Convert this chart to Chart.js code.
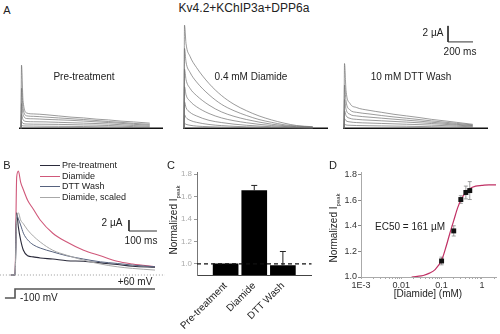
<!DOCTYPE html>
<html>
<head>
<meta charset="utf-8">
<script src="https://cdn.jsdelivr.net/npm/chart.js@4"></script>
<style>
body { margin: 0; background: #fff; font-family: "Liberation Sans", Arial, sans-serif; color: #222; }
#fig { position: relative; width: 500px; height: 334px; overflow: hidden; }
canvas { position: absolute; }
.t { position: absolute; white-space: nowrap; line-height: 1; }
.c { transform: translate(-50%, -50%); }
.l { transform: translate(0, -50%); }
.r { transform: translate(-50%, -50%) rotate(-90deg); }
.leg { position: absolute; left: 40px; width: 20px; height: 0; }
</style>
</head>
<body>
<div id="fig">
  <canvas id="aPre" width="150" height="110" style="left:15px;top:20px"></canvas>
  <canvas id="aDia" width="150" height="110" style="left:180px;top:20px"></canvas>
  <canvas id="aDtt" width="150" height="110" style="left:340px;top:20px"></canvas>
  <canvas id="bTr" width="165" height="145" style="left:0px;top:165px"></canvas>
  <canvas id="cBar" width="165" height="169" style="left:160px;top:165px"></canvas>
  <canvas id="dDose" width="180" height="140" style="left:320px;top:160px"></canvas>

  <div class="t c" style="left:7px;top:10px;font-size:11px">A</div>
  <div class="t c" style="left:244px;top:8px;font-size:12px">Kv4.2+KChIP3a+DPP6a</div>
  <div class="t c" style="left:84px;top:77px;font-size:10px">Pre-treatment</div>
  <div class="t c" style="left:251px;top:77px;font-size:10px">0.4 mM Diamide</div>
  <div class="t c" style="left:411px;top:77px;font-size:10px">10 mM DTT Wash</div>
  <div class="t c" style="left:433px;top:33px;font-size:10px">2 µA</div>
  <div class="t c" style="left:460px;top:52px;font-size:10px">200 ms</div>

  <div class="t c" style="left:7px;top:165px;font-size:11px">B</div>
  <div class="leg" style="top:165px;border-top:1px solid #2b2b3b"></div>
  <div class="leg" style="top:176px;border-top:1px solid #d0587a"></div>
  <div class="leg" style="top:186px;border-top:1px solid #56627e"></div>
  <div class="leg" style="top:197px;border-top:1px solid #a8a8a8"></div>
  <div class="t l" style="left:62px;top:165px;font-size:9px">Pre-treatment</div>
  <div class="t l" style="left:62px;top:176px;font-size:9px">Diamide</div>
  <div class="t l" style="left:62px;top:186px;font-size:9px">DTT Wash</div>
  <div class="t l" style="left:62px;top:197px;font-size:9px">Diamide, scaled</div>
  <div class="t c" style="left:112px;top:223px;font-size:10px">2 µA</div>
  <div class="t c" style="left:141px;top:241px;font-size:10px">100 ms</div>
  <div class="t c" style="left:135px;top:282px;font-size:10px">+60 mV</div>
  <div class="t l" style="left:20px;top:298px;font-size:10px">-100 mV</div>

  <div class="t c" style="left:171px;top:165px;font-size:11px">C</div>
  <div class="t r" style="left:175px;top:220px;font-size:10px">Normalized I<sub style="font-size:6px">peak</sub></div>

  <div class="t c" style="left:333px;top:165px;font-size:11px">D</div>
  <div class="t r" style="left:335px;top:228px;font-size:10px">Normalized I<sub style="font-size:6px">peak</sub></div>
  <div class="t c" style="left:410px;top:227px;font-size:10px">EC50 = 161 µM</div>
  <div class="t c" style="left:428px;top:294px;font-size:10px">[Diamide] (mM)</div>
</div>

<script>
// A: current families, time in ms, current in µA
const tA = [0, 4, 16, 48, 100, 200, 300, 400, 500, 600, 700, 800, 900, 1030];
const preTraces = [
    [0, 7.9, 3.5, 1.9, 1.8, 1.7, 1.55, 1.4, 1.3, 1.15, 1.05, 0.9, 0.8, 0.65],
    [0, 5.0, 2.5, 1.55, 1.5, 1.4, 1.3, 1.2, 1.1, 0.98, 0.85, 0.75, 0.62, 0.5],
    [0, 3.1, 1.75, 1.22, 1.19, 1.12, 1.06, 1.0, 0.91, 0.81, 0.72, 0.62, 0.5, 0.38],
    [0, 1.75, 1.06, 0.85, 0.82, 0.8, 0.75, 0.7, 0.65, 0.6, 0.54, 0.45, 0.35, 0.25],
    [0, 0.88, 0.6, 0.54, 0.52, 0.51, 0.49, 0.46, 0.42, 0.4, 0.35, 0.29, 0.21, 0.13],
    [0, 0.38, 0.3, 0.29, 0.28, 0.26, 0.25, 0.24, 0.22, 0.2, 0.18, 0.15, 0.11, 0.08]
];
const diaTraces = [
    [0, 12.9, 10.6, 9.0, 7.6, 5.6, 4.1, 3.0, 2.2, 1.55, 1.05, 0.65, 0.35, 0.2],
    [0, 10.0, 8.3, 7.0, 5.8, 4.2, 3.0, 2.2, 1.6, 1.1, 0.75, 0.45, 0.28, 0.15],
    [0, 7.4, 6.1, 5.0, 4.1, 2.9, 2.05, 1.5, 1.1, 0.78, 0.52, 0.33, 0.2, 0.12],
    [0, 5.2, 4.2, 3.4, 2.7, 1.85, 1.3, 0.95, 0.7, 0.5, 0.35, 0.23, 0.15, 0.1],
    [0, 3.3, 2.6, 2.0, 1.55, 1.0, 0.72, 0.52, 0.38, 0.28, 0.2, 0.15, 0.11, 0.08],
    [0, 1.7, 1.35, 1.0, 0.75, 0.48, 0.34, 0.25, 0.19, 0.15, 0.12, 0.1, 0.08, 0.06],
    [0, 0.6, 0.5, 0.38, 0.28, 0.2, 0.15, 0.12, 0.1, 0.08, 0.07, 0.06, 0.05, 0.04]
];
const dttTraces = [
    [0, 8.1, 4.75, 3.1, 2.6, 2.25, 2.0, 1.75, 1.55, 1.35, 1.12, 0.94, 0.75, 0.5],
    [0, 5.4, 3.4, 2.3, 2.0, 1.8, 1.6, 1.42, 1.26, 1.1, 0.93, 0.78, 0.62, 0.42],
    [0, 3.6, 2.4, 1.75, 1.55, 1.4, 1.27, 1.14, 1.02, 0.9, 0.76, 0.64, 0.5, 0.34],
    [0, 2.2, 1.6, 1.25, 1.12, 1.02, 0.94, 0.86, 0.78, 0.69, 0.6, 0.5, 0.4, 0.27],
    [0, 1.2, 0.95, 0.8, 0.72, 0.66, 0.61, 0.56, 0.51, 0.46, 0.4, 0.34, 0.27, 0.18],
    [0, 0.5, 0.42, 0.38, 0.35, 0.32, 0.3, 0.28, 0.26, 0.23, 0.2, 0.17, 0.13, 0.09]
];

// B: overlay at +60 mV
const tB = [-15, 0, 6, 12, 20, 30, 45, 65, 90, 135, 185, 245, 305, 365, 420, 500];
const bPre = [0, 0, 11.3, 8.7, 6.4, 4.5, 3.5, 3.3, 3.1, 2.9, 2.6, 2.5, 2.2, 1.9, 1.6, 1.4];
const bDia = [0, 0, 17.8, 18.9, 16.9, 15.5, 13.6, 12.0, 10.0, 7.6, 6.0, 4.5, 3.5, 2.5, 2.0, 1.5];
const bDtt = [0, 0, 10.9, 10.2, 9.1, 7.6, 6.4, 5.5, 4.9, 4.2, 3.5, 2.9, 2.4, 2.1, 1.8, 1.5];
const bScaled = [0, 0, 10.5, 11.3, 10.0, 9.3, 8.2, 7.1, 6.0, 4.5, 3.6, 2.7, 2.0, 1.5, 1.2, 0.9];
const protoT = [-36, 0, 0, 500];
const protoV = [-100, -100, 60, 60];

// C: normalized peak current
const condLabels = ['Pre-treatment', 'Diamide', 'DTT Wash'];
const peakMean = [1.0, 1.655, 0.985];
const peakErr = [0, 0.045, 0.125];
const ticksC = [1.0, 1.2, 1.4, 1.6, 1.8];

// D: dose response
const doseX = [0.1, 0.2, 0.3, 0.4, 0.5];
const doseY = [1.125, 1.36, 1.605, 1.66, 1.675];
const doseErr = [0.03, 0.04, 0.03, 0.05, 0.07];
const fitX = [0.018, 0.025, 0.035, 0.05, 0.07, 0.1, 0.13, 0.16, 0.2, 0.25, 0.3, 0.4, 0.5, 0.7, 1, 1.5, 2.24];
const fitY = [1.0, 1.005, 1.012, 1.03, 1.06, 1.13, 1.24, 1.34, 1.44, 1.54, 1.6, 1.66, 1.69, 1.71, 1.715, 1.72, 1.72];
const majorTicksD = [0.001, 0.01, 0.1, 1];
const majorLabelsD = ['1E-3', '0.01', '0.1', '1'];
const ticksD = [1.0, 1.2, 1.4, 1.6, 1.8];

Chart.defaults.font.family = '"Liberation Sans", Arial, sans-serif';
Chart.defaults.animation = false;
Chart.defaults.events = [];
Chart.defaults.plugins.legend.display = false;
Chart.defaults.plugins.tooltip.enabled = false;

function lineSet(xs, ys, color, width, extra) {
    return Object.assign({
        type: 'line',
        data: xs.map((x, i) => ({ x: x, y: ys[i] })),
        borderColor: color,
        borderWidth: width,
        pointRadius: 0,
        fill: false,
        cubicInterpolationMode: 'monotone'
    }, extra || {});
}
const straight = { cubicInterpolationMode: 'default', tension: 0 };

// panel A, 8 ms and 0.125 µA per pixel
function familyChart(id, traces, xMin, base, bar) {
    const sets = traces.map(tr => lineSet(tA, tr, '#707070', 0.7));
    sets.push(lineSet(base, [0, 0], '#111', 1.4, straight));
    if (bar) sets.push(lineSet([bar.t, bar.t, bar.t + bar.dt], [bar.i + bar.di, bar.i, bar.i], '#333', 1, straight));
    new Chart(document.getElementById(id), {
        type: 'line',
        data: { datasets: sets },
        options: {
            responsive: false,
            layout: { padding: 0 },
            scales: {
                x: { type: 'linear', display: false, min: xMin, max: xMin + 1200 },
                y: { display: false, min: -0.21, max: 13.54 }
            }
        }
    });
}
familyChart('aPre', preTraces, -48, [-16, 1136]);
familyChart('aDia', diaTraces, -32, [-8, 1152]);
familyChart('aDtt', dttTraces, -32, [-8, 1152], { t: 832, i: 10.8, dt: 200, di: 2 });

// panel B
new Chart(document.getElementById('bTr'), {
    type: 'line',
    data: {
        datasets: [
            lineSet([-54, 536], [0, 0], '#999', 1, Object.assign({ borderDash: [1, 2] }, straight)),
            lineSet(tB, bScaled, '#a8a8a8', 1),
            lineSet(tB, bDtt, '#56627e', 1),
            lineSet(tB, bPre, '#2b2b3b', 1.1),
            lineSet(tB, bDia, '#d0587a', 1.1),
            lineSet([407, 407, 507], [10, 8, 8], '#333', 1, straight),
            lineSet(protoT, protoV, '#555', 1.6, Object.assign({ yAxisID: 'v' }, straight))
        ]
    },
    options: {
        responsive: false,
        layout: { padding: 0 },
        scales: {
            x: { type: 'linear', display: false, min: -53.6, max: 535.7 },
            y: { display: false, min: -6.36, max: 20 },
            v: { display: false, min: -313, max: 2264 }
        }
    }
});

// panel C
const errPlugin = {
    id: 'errC',
    afterDatasetsDraw(chart) {
        const ctx = chart.ctx, x = chart.scales.x, y = chart.scales.y;
        ctx.save();
        ctx.strokeStyle = '#222';
        ctx.lineWidth = 1;
        peakMean.forEach((m, i) => {
            if (!peakErr[i]) return;
            const px = x.getPixelForValue(i + 1);
            const y0 = y.getPixelForValue(m), y1 = y.getPixelForValue(m + peakErr[i]);
            ctx.beginPath();
            ctx.moveTo(px, y0); ctx.lineTo(px, y1);
            ctx.moveTo(px - 3, y1); ctx.lineTo(px + 3, y1);
            ctx.stroke();
        });
        ctx.restore();
    }
};
new Chart(document.getElementById('cBar'), {
    type: 'bar',
    data: {
        labels: ['', ...condLabels, ''],
        datasets: [
            { type: 'line', data: [1, 1, 1, 1, 1], borderColor: '#111', borderWidth: 1.2, borderDash: [4, 3], pointRadius: 0, order: 0 },
            { type: 'bar', data: [null, ...peakMean, null], backgroundColor: '#000', barThickness: 25, order: 1 }
        ]
    },
    options: {
        responsive: false,
        layout: { padding: { top: 7, right: 3, left: 0, bottom: 0 } },
        scales: {
            x: {
                offset: false,
                grid: { display: false, drawTicks: false },
                border: { color: '#444' },
                ticks: { autoSkip: false, minRotation: 45, maxRotation: 45, padding: 5, color: '#222', font: { size: 10 } },
                afterFit: s => { s.height = 59; }
            },
            y: {
                min: 0.9, max: 1.82,
                grid: { drawOnChartArea: false, tickLength: 3, color: '#999' },
                border: { color: '#777' },
                ticks: { color: '#aaa', font: { size: 8 }, padding: 2, callback: v => v.toFixed(1) },
                afterBuildTicks: s => { s.ticks = ticksC.map(v => ({ value: v })); },
                afterFit: s => { s.width = 37; }
            }
        }
    },
    plugins: [errPlugin]
});

// panel D
const errPluginD = {
    id: 'errD',
    beforeDatasetsDraw(chart) {
        const ctx = chart.ctx, x = chart.scales.x, y = chart.scales.y;
        ctx.save();
        ctx.strokeStyle = '#888';
        ctx.lineWidth = 0.8;
        doseX.forEach((d, i) => {
            const px = x.getPixelForValue(d);
            const y0 = y.getPixelForValue(doseY[i] - doseErr[i]), y1 = y.getPixelForValue(doseY[i] + doseErr[i]);
            ctx.beginPath();
            ctx.moveTo(px, y0); ctx.lineTo(px, y1);
            ctx.moveTo(px - 2, y0); ctx.lineTo(px + 2, y0);
            ctx.moveTo(px - 2, y1); ctx.lineTo(px + 2, y1);
            ctx.stroke();
        });
        ctx.restore();
    }
};
new Chart(document.getElementById('dDose'), {
    type: 'scatter',
    data: {
        datasets: [
            { type: 'scatter', data: doseX.map((d, i) => ({ x: d, y: doseY[i] })), pointStyle: 'rect', pointRadius: 3.5, backgroundColor: '#111', borderColor: '#111', borderWidth: 0, order: 0 },
            Object.assign(lineSet(fitX, fitY, '#c03064', 1.2), { order: 1 })
        ]
    },
    options: {
        responsive: false,
        layout: { padding: { top: 12, right: 0, left: 0, bottom: 0 } },
        scales: {
            x: {
                type: 'logarithmic', min: 0.001, max: 2.24,
                grid: { drawOnChartArea: false, tickLength: 2, color: '#aaa' },
                border: { color: '#aaa', dash: [1, 2] },
                ticks: {
                    autoSkip: false, maxRotation: 0, padding: 1, color: '#333', font: { size: 9 },
                    callback: v => { const k = majorTicksD.indexOf(v); return k < 0 ? '' : majorLabelsD[k]; }
                },
                afterBuildTicks: s => {
                    const list = [];
                    majorTicksD.forEach(m => [1, 2, 3, 4, 5, 6, 7, 8, 9].forEach(k => { if (m * k <= 2.24) list.push({ value: m * k }); }));
                    s.ticks = list;
                },
                afterFit: s => { s.height = 23; }
            },
            y: {
                min: 1.0, max: 1.82,
                grid: { drawOnChartArea: false, tickLength: 3, color: '#888' },
                border: { color: '#aaa' },
                ticks: { color: '#333', font: { size: 9 }, padding: 1, callback: v => v.toFixed(1) },
                afterBuildTicks: s => { s.ticks = ticksD.map(v => ({ value: v })); },
                afterFit: s => { s.width = 41; }
            }
        }
    },
    plugins: [errPluginD]
});
</script>
</body>
</html>
